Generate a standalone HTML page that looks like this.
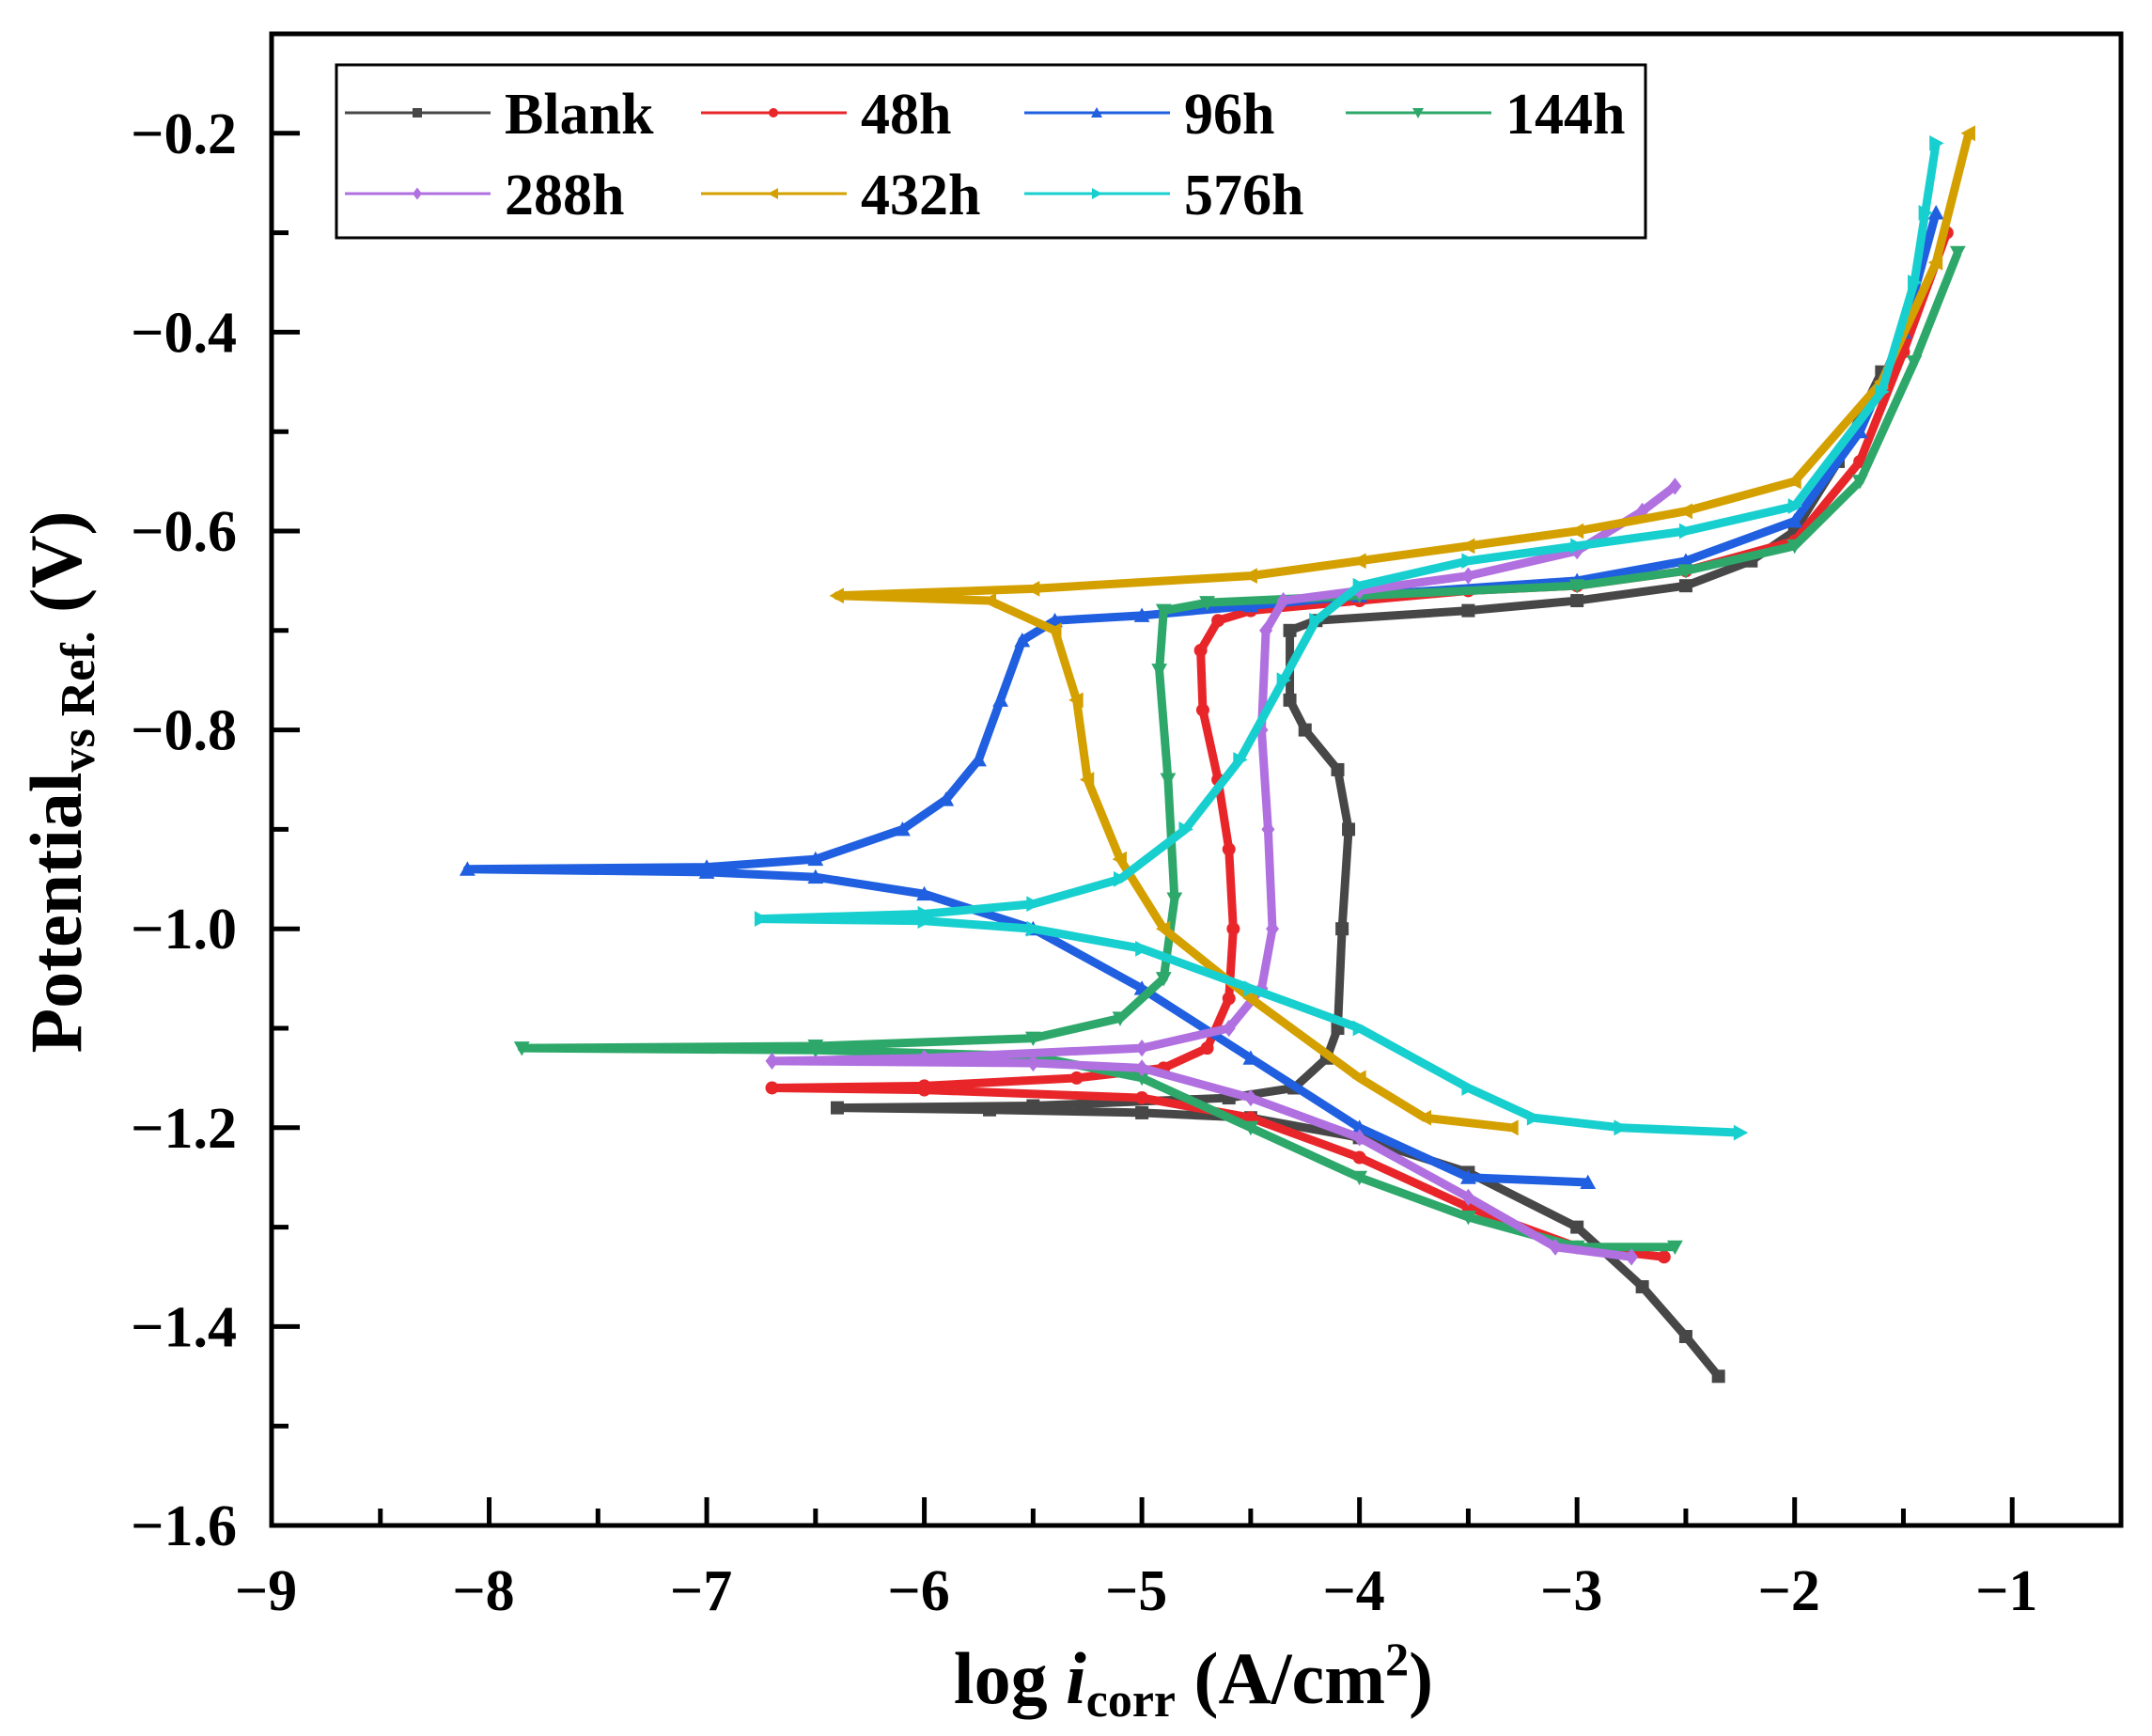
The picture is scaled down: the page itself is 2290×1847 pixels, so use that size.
<!DOCTYPE html>
<html><head><meta charset="utf-8"><style>
html,body{margin:0;padding:0;background:#fff;}
svg{display:block;font-family:"Liberation Serif",serif;font-weight:bold;}
</style></head><body>
<svg id="chart" width="2290" height="1847" viewBox="0 0 2290 1847">
<g id="plot"></g>
<g id="axes"></g>
<g id="legend"></g>
<text transform="translate(86,832) rotate(-90)" text-anchor="middle" font-size="78">Potential<tspan font-size="52" dy="14">vs Ref.</tspan><tspan dy="-14"> (V)</tspan></text>
<text x="1270" y="1812" text-anchor="middle" font-size="78">log <tspan font-style="italic">i</tspan><tspan font-size="52" dy="14">corr</tspan><tspan dy="-14"> (A/cm</tspan><tspan font-size="50" dy="-30">2</tspan><tspan dy="30">)</tspan></text>
</svg>
<script>
const xTicks=[-9,-8,-7,-6,-5,-4,-3,-2,-1];
const yTicks=[-1.6,-1.4,-1.2,-1.0,-0.8,-0.6,-0.4,-0.2];
const yTickLabels=["\u22121.6","\u22121.4","\u22121.2","\u22121.0","\u22120.8","\u22120.6","\u22120.4","\u22120.2"];
const seriesNames=["Blank","48h","96h","144h","288h","432h","576h"];
const blank=[[-2.35,-1.45],[-2.5,-1.41],[-2.7,-1.36],[-3,-1.3],[-3.5,-1.245],[-4,-1.21],[-4.5,-1.19],[-5,-1.185],[-5.7,-1.182],[-6.4,-1.18],[-5.5,-1.178],[-4.6,-1.17],[-4.3,-1.16],[-4.15,-1.13],[-4.1,-1.1],[-4.08,-1.0],[-4.05,-0.9],[-4.1,-0.84],[-4.25,-0.8],[-4.32,-0.77],[-4.32,-0.7],[-4.2,-0.69],[-3.5,-0.68],[-3,-0.67],[-2.5,-0.655],[-2.2,-0.63],[-2,-0.6],[-1.8,-0.53],[-1.6,-0.44]];
const h48=[[-2.6,-1.33],[-3,-1.32],[-3.5,-1.28],[-4,-1.23],[-4.5,-1.19],[-5,-1.17],[-6,-1.162],[-6.7,-1.16],[-6,-1.158],[-5.3,-1.15],[-4.9,-1.14],[-4.7,-1.12],[-4.6,-1.07],[-4.58,-1.0],[-4.6,-0.92],[-4.65,-0.85],[-4.72,-0.78],[-4.73,-0.72],[-4.65,-0.69],[-4.5,-0.68],[-4,-0.67],[-3.5,-0.66],[-3,-0.655],[-2.5,-0.64],[-2,-0.61],[-1.7,-0.53],[-1.5,-0.42],[-1.3,-0.3]];
const h96=[[-2.95,-1.255],[-3.5,-1.25],[-4,-1.2],[-4.5,-1.13],[-5,-1.06],[-5.5,-1.0],[-6,-0.965],[-6.5,-0.948],[-7,-0.943],[-8.1,-0.94],[-7,-0.938],[-6.5,-0.93],[-6.1,-0.9],[-5.9,-0.87],[-5.75,-0.83],[-5.65,-0.77],[-5.55,-0.71],[-5.4,-0.69],[-5,-0.685],[-4.5,-0.675],[-4,-0.665],[-3,-0.65],[-2.5,-0.63],[-2,-0.59],[-1.7,-0.5],[-1.5,-0.4],[-1.35,-0.28]];
const h144=[[-2.55,-1.32],[-3,-1.32],[-3.5,-1.29],[-4,-1.25],[-4.5,-1.2],[-5,-1.15],[-5.5,-1.128],[-6.5,-1.122],[-7.85,-1.12],[-6.5,-1.118],[-5.5,-1.11],[-5.1,-1.09],[-4.9,-1.05],[-4.85,-0.97],[-4.88,-0.85],[-4.92,-0.74],[-4.9,-0.68],[-4.7,-0.672],[-4,-0.665],[-3,-0.655],[-2.5,-0.64],[-2,-0.615],[-1.7,-0.55],[-1.45,-0.43],[-1.25,-0.32]];
const h288=[[-2.75,-1.33],[-3.1,-1.32],[-3.5,-1.27],[-4,-1.21],[-4.5,-1.17],[-5,-1.14],[-5.5,-1.135],[-6.7,-1.133],[-6,-1.13],[-5,-1.12],[-4.6,-1.1],[-4.45,-1.06],[-4.4,-1.0],[-4.42,-0.9],[-4.45,-0.8],[-4.43,-0.7],[-4.35,-0.67],[-4,-0.66],[-3.5,-0.645],[-3,-0.62],[-2.7,-0.58],[-2.55,-0.555]];
const h432=[[-3.3,-1.2],[-3.7,-1.19],[-4,-1.15],[-4.5,-1.07],[-4.9,-1.0],[-5.1,-0.93],[-5.25,-0.85],[-5.3,-0.77],[-5.4,-0.7],[-5.7,-0.67],[-6.4,-0.665],[-5.5,-0.658],[-4.5,-0.645],[-4,-0.63],[-3.5,-0.615],[-3,-0.6],[-2.5,-0.58],[-2,-0.55],[-1.6,-0.45],[-1.35,-0.33],[-1.2,-0.2]];
const h576=[[-2.25,-1.205],[-2.8,-1.2],[-3.2,-1.19],[-3.5,-1.16],[-4,-1.1],[-4.5,-1.06],[-5,-1.02],[-5.5,-1.0],[-6,-0.992],[-6.75,-0.99],[-6,-0.985],[-5.5,-0.975],[-5.1,-0.95],[-4.8,-0.9],[-4.55,-0.83],[-4.35,-0.75],[-4.2,-0.69],[-4,-0.655],[-3.5,-0.63],[-3,-0.615],[-2.5,-0.6],[-2,-0.575],[-1.6,-0.46],[-1.45,-0.35],[-1.4,-0.28],[-1.35,-0.21]];
const allSeries=[blank,h48,h96,h144,h288,h432,h576];
const colors=["#474747","#e8262a","#1f5fe0","#2ea86a","#b070e0","#d4a000","#18cfcf"];
const markers=["square","circle","up","down","diamond","left","right"];

const NS="http://www.w3.org/2000/svg";
const L=289,R=2257,T=36,B=1623,X0=-9,X1=-0.5,Y0=-1.6,Y1=-0.1;
function sx(v){return L+(v-X0)/(X1-X0)*(R-L);}
function sy(v){return B-(v-Y0)/(Y1-Y0)*(B-T);}
function mk(tag,attrs,parent){const e=document.createElementNS(NS,tag);for(const k in attrs)e.setAttribute(k,attrs[k]);parent.appendChild(e);return e;}
function markerPath(type,x,y,s){
  if(type==="square")return `M${x-s},${y-s}h${2*s}v${2*s}h${-2*s}Z`;
  if(type==="circle")return `M${x-s},${y}a${s},${s} 0 1,0 ${2*s},0a${s},${s} 0 1,0 ${-2*s},0Z`;
  if(type==="up")return `M${x},${y-s*1.2}L${x+s*1.2},${y+s}L${x-s*1.2},${y+s}Z`;
  if(type==="down")return `M${x},${y+s*1.2}L${x+s*1.2},${y-s}L${x-s*1.2},${y-s}Z`;
  if(type==="diamond")return `M${x},${y-s*1.3}L${x+s},${y}L${x},${y+s*1.3}L${x-s},${y}Z`;
  if(type==="left")return `M${x-s*1.2},${y}L${x+s},${y-s*1.2}L${x+s},${y+s*1.2}Z`;
  return `M${x+s*1.2},${y}L${x-s},${y-s*1.2}L${x-s},${y+s*1.2}Z`;
}
const plot=document.getElementById('plot');
allSeries.forEach((s,i)=>{
  const g=mk('g',{},plot);
  
  
  const p=mk('polyline',{points:s.map(d=>sx(d[0])+','+sy(d[1])).join(' '),fill:'none',stroke:colors[i],'stroke-width':9,'stroke-linejoin':'round'},g);
  
  
  s.forEach(d=>{
    const m=mk('path',{d:markerPath(markers[i],sx(d[0]),sy(d[1]),7),fill:colors[i]},g);
    
    
  });
});
const axes=document.getElementById('axes');
const frame=mk('rect',{x:L,y:T,width:R-L,height:B-T,fill:'none',stroke:'#000','stroke-width':5},axes);


xTicks.forEach((v,i)=>{
  const x=sx(v);
  const t=mk('line',{x1:x,y1:B,x2:x,y2:B-30,stroke:'#000','stroke-width':5},axes);
  
  
  if(i<xTicks.length-1){const xm=sx(v+0.5);const m=mk('line',{x1:xm,y1:B,x2:xm,y2:B-18,stroke:'#000','stroke-width':5},axes);
  
  }
  const lb=mk('text',{x:x-6,y:B+90,'text-anchor':'middle','font-size':62},axes);
  lb.textContent='\u2212'+Math.abs(v);
  
  
});
yTicks.forEach((v,i)=>{
  const y=sy(v);
  const t=mk('line',{x1:L,y1:y,x2:L+30,y2:y,stroke:'#000','stroke-width':5},axes);
  
  
  const ym=sy(v+0.1);
  const m=mk('line',{x1:L,y1:ym,x2:L+18,y2:ym,stroke:'#000','stroke-width':5},axes);
  
  
  const lb=mk('text',{x:252,y:y+21,'text-anchor':'end','font-size':62},axes);
  lb.textContent=yTickLabels[i];
  
  
});
const leg=document.getElementById('legend');
const lbox=mk('rect',{x:358,y:69,width:1393,height:184,fill:'#fff',stroke:'#000','stroke-width':3},leg);


const colX=[367,746,1090,1432],rowY=[120,206];
seriesNames.forEach((n,i)=>{
  const cx=colX[i%4],cy=rowY[Math.floor(i/4)];
  const g=mk('g',{},leg);
  
  
  mk('line',{x1:cx,y1:cy,x2:cx+155,y2:cy,stroke:colors[i],'stroke-width':3},g);
  mk('path',{d:markerPath(markers[i],cx+77,cy,5),fill:colors[i]},g);
  const t=mk('text',{x:cx+170,y:cy+22,'font-size':62},g);
  t.textContent=n;
});
</script>
</body></html>
